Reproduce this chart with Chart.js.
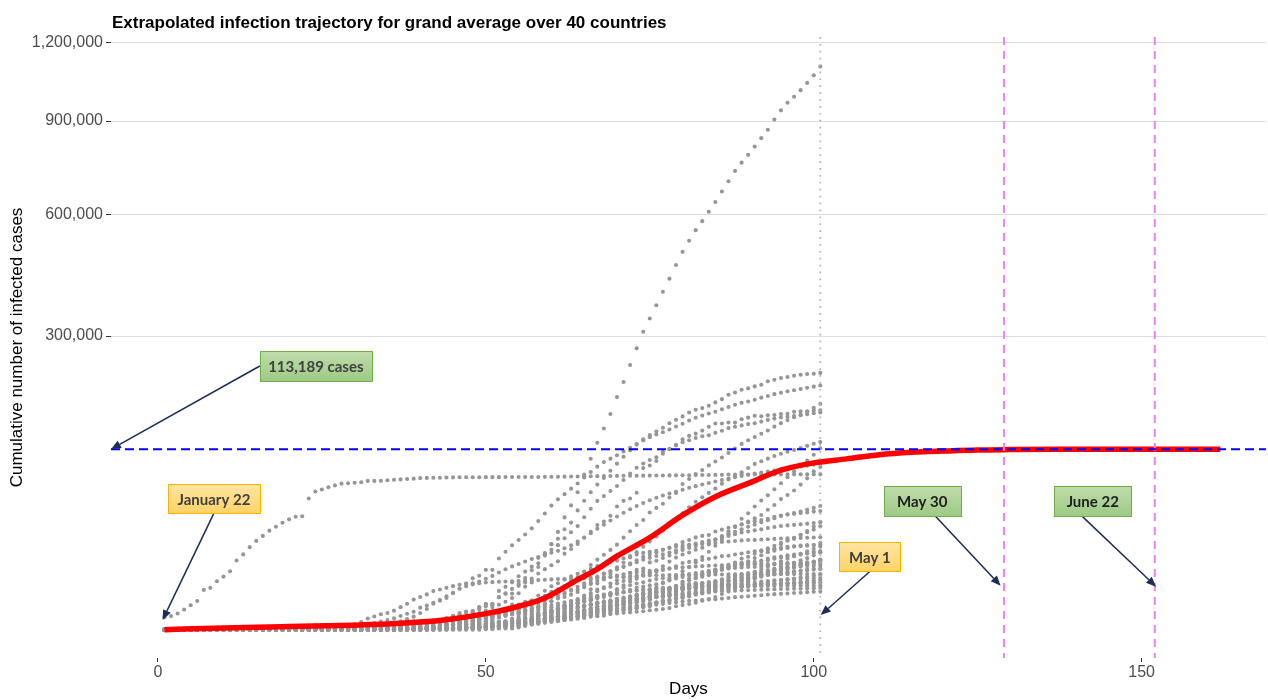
<!DOCTYPE html>
<html><head><meta charset="utf-8">
<script src="https://cdn.jsdelivr.net/npm/chart.js@4.4.1/dist/chart.umd.min.js"></script>
<style>html,body{margin:0;padding:0;background:#fff;overflow:hidden}canvas{display:block}</style>
</head><body><canvas id="c" width="1268" height="700"></canvas>
<script>
// ---------- tick labels / reference values ----------
const xTicks = [0, 50, 100, 150];
const yTicks = [300000, 600000, 900000, 1200000];
const plateauValue = 113189;
const dottedDay = 101;
const dashedDays = [129, 152];

// ---------- extrapolated grand-average trajectory ----------
const redDays = [1, 10, 20, 30, 35, 40, 44, 50, 54, 59, 64, 67, 70, 75, 80, 85, 90, 95, 100, 105, 110, 115, 120, 125, 130, 137, 150, 162];
const redVals = [0, 10, 35, 70, 110, 200, 350, 900, 1640, 3500, 8700, 12800, 18800, 29500, 45600, 61500, 74500, 88500, 96800, 101500, 106500, 109400, 111000, 112300, 112800, 113189, 113189, 113189];

// ---------- cumulative cases per country, days 1..101 ----------
const US = [1,1,2,2,5,5,5,5,5,7,8,8,11,11,11,11,11,11,11,11,12,12,13,13,13,13,13,13,13,13,15,15,15,51,51,57,58,60,68,74,98,118,149,217,262,402,518,583,959,1281,1663,2179,2727,3499,4632,6421,7786,13680,19101,25493,33276,43847,53740,65778,83836,101657,121478,140886,161807,188172,213372,243622,275367,308650,336802,366317,397121,428654,462780,496535,526396,555313,580619,607670,636350,667801,699706,732197,758809,784326,811865,840351,869170,905358,938154,965785,988197,1012582,1039909,1069424,1103461];
const Spain = [0,0,0,0,0,0,0,0,0,0,1,1,1,1,1,1,1,1,2,2,2,2,2,2,2,2,2,2,2,2,2,2,2,2,6,13,15,32,45,84,120,165,222,259,400,500,673,1073,1695,2277,2277,5232,6391,7798,9942,11748,13910,17963,20410,25374,28768,35136,39885,49515,57786,65719,73235,80110,87956,95923,104118,112065,119199,126168,131646,136675,141942,148220,153222,158273,164000,168300,170800,174500,179700,184900,192000,195700,200300,202500,205900,208800,214600,217400,220300,222100,224400,226100,227400,227900,229400];
const Italy = [0,0,0,0,0,0,0,0,0,2,2,2,2,2,2,2,3,3,3,3,3,3,3,3,3,3,3,3,3,3,20,62,155,229,322,453,655,888,1128,1694,2036,2502,3089,3858,4636,5883,7375,9172,10149,12462,12462,17660,21157,24747,27980,31506,35713,41035,47021,53578,59138,63927,69176,74386,80589,86498,92472,97689,101739,105792,110574,115242,119827,124632,128948,132547,135586,139422,143626,147577,152271,156363,159516,162488,165155,168941,172434,175925,178972,181228,183957,187327,189973,192994,195351,197675,199414,201505,203591,205463,207428];
const UK = [0,0,0,0,0,0,0,0,0,2,2,2,2,2,2,2,2,3,3,8,8,9,9,9,9,9,9,9,9,9,9,9,9,13,13,13,15,20,23,36,40,51,86,116,164,209,278,321,383,460,460,798,1140,1140,1543,1950,2626,2689,3983,5018,5683,6650,8077,9529,11658,14543,17089,19522,22141,25150,29474,33718,38168,41903,47806,51608,55242,60733,65077,73758,78991,84279,88621,93873,98476,103093,108692,114217,120067,124743,129044,133495,138078,143464,148377,152840,157149,161145,165221,171253,177454];
const France = [0,0,2,3,3,3,4,5,5,5,6,6,6,6,6,6,6,11,11,11,11,11,11,11,12,12,12,12,12,12,12,12,12,12,14,18,38,57,100,130,191,204,288,380,656,959,1136,1219,1794,2293,2293,3681,4496,4532,6683,7715,9124,10970,12758,14463,16243,20123,22622,25600,29551,33402,38105,40708,45170,52827,57749,59929,65202,90848,93773,98963,110065,113959,118781,125931,130727,133670,137877,143303,147969,147863,149233,149149,154097,156480,159297,158303,159952,160292,161644,162220,165093,165764,165911,167299,167305];
const Germany = [0,0,0,0,0,0,1,4,4,5,8,10,12,12,12,12,13,13,14,14,16,16,16,16,16,16,16,16,16,16,16,16,16,16,17,27,46,48,79,130,159,196,262,482,670,799,1040,1176,1457,1908,2078,3675,4585,5795,7272,9257,12327,15320,19848,22213,24873,29056,32986,37323,43938,50871,57695,62095,66885,71808,77872,84794,91159,96092,100123,103374,107663,113296,118181,122171,124908,127854,130072,131359,134753,137698,141397,143342,145184,147065,148291,150648,153129,154999,156513,157770,158758,159912,161539,163009,164077];
const Turkey = [0,0,0,0,0,0,0,0,0,0,0,0,0,0,0,0,0,0,0,0,0,0,0,0,0,0,0,0,0,0,0,0,0,0,0,0,0,0,0,0,0,0,0,0,0,0,0,0,0,1,1,5,5,6,18,47,98,192,359,670,1236,1529,1872,2433,3629,5698,7402,9217,10827,13531,15679,18135,20921,23934,27069,30217,34109,38226,42282,47029,52167,56956,61049,65111,69392,74193,78546,82329,86306,90980,95591,98674,101790,104912,107773,110130,112261,114653,117589,120204,122392];
const Russia = [0,0,0,0,0,0,0,0,0,2,2,2,2,2,2,2,2,2,2,2,2,2,2,2,2,2,2,2,2,2,2,2,2,2,2,2,2,2,2,2,3,3,3,4,13,13,17,17,20,20,28,45,59,63,90,114,147,199,253,306,367,438,495,658,840,1036,1264,1534,1836,2337,2777,3548,4149,4731,5389,6343,7497,8672,10131,11917,13584,15770,18328,21102,24490,27938,32008,36793,42853,47121,52763,57999,62773,68622,74588,80949,87147,93558,99399,106498,114431];
const Iran = [0,0,0,0,0,0,0,0,0,0,0,0,0,0,0,0,0,0,0,0,0,0,0,0,0,0,0,0,2,5,18,28,43,61,95,139,245,388,593,978,1501,2336,2922,3513,4747,5823,6566,7161,8042,9000,10075,11364,12729,13938,14991,16169,17361,18407,19644,20610,21638,23049,24811,27017,29406,32332,35408,38309,41495,44605,47593,50468,53183,55743,58226,60500,62589,64586,66220,68192,70029,71686,73303,74877,76389,77995,79494,80868,82211,83505,84802,85996,87026,88194,89328,90481,91472,92584,93657,94640,95646];
const Brazil = [0,0,0,0,0,0,0,0,0,0,0,0,0,0,0,0,0,0,0,0,0,0,0,0,0,0,0,0,0,0,0,0,0,0,0,1,1,1,2,2,2,2,4,4,13,13,20,25,31,38,52,151,151,162,200,321,372,621,793,1021,1546,1924,2247,2554,2985,3417,3904,4256,4579,5717,6836,8044,9056,10360,11130,12161,14034,16170,18092,19638,20727,22192,23430,25262,28320,30425,33682,36658,38654,40743,43079,45757,50036,54043,59324,63100,67446,73235,79685,87187,92202];
const China = [548,643,920,1406,2075,2877,5509,6087,8141,9802,11891,16630,19716,23707,27440,30587,34110,36814,39829,42354,44386,44759,59895,66358,68413,70513,72434,74211,74619,75077,75550,77001,77022,77241,77754,78166,78600,78928,79356,79932,80136,80261,80386,80537,80690,80770,80823,80860,80887,80921,80932,80945,80977,81003,81033,81058,81102,81156,81250,81305,81435,81498,81591,81661,81782,81897,81999,82122,82198,82279,82361,82432,82511,82543,82602,82665,82718,82809,82883,82941,83014,83134,83213,83306,83356,83403,83760,83787,83805,83817,83853,83868,83884,83899,83909,83912,83918,83940,83944,83956,83959];
const Canada = [0,0,0,0,1,1,2,2,2,4,4,4,4,4,5,5,7,7,7,7,7,7,7,7,7,7,7,7,8,8,9,9,9,10,11,11,13,14,20,24,27,30,33,37,49,54,64,77,79,108,117,193,198,252,415,478,657,800,943,1277,1465,2088,2790,3251,4042,4682,5576,6280,7398,8527,9560,11284,12437,12978,15756,16563,17872,19141,20654,22059,23316,24298,25680,27035,28209,29812,31927,33383,35056,36857,38422,40179,41650,43299,44919,46371,47327,48500,50026,51597,53236];
const Belgium = [0,0,0,0,0,0,0,0,0,0,0,0,0,1,1,1,1,1,1,1,1,1,1,1,1,1,1,1,1,1,1,1,1,1,1,1,1,1,1,2,8,13,23,50,109,169,200,239,267,314,314,559,689,886,1058,1243,1486,1795,2257,2815,3401,3743,4269,4937,6235,7284,9134,10836,11899,12775,13964,15348,16770,18431,19691,20814,22194,23403,24983,26667,28018,29647,30589,31119,33573,34809,36138,37183,38496,39983,40956,41889,42797,44293,45325,46134,46687,47334,47859,48519,49032];
const Netherlands = [0,0,0,0,0,0,0,0,0,0,0,0,0,0,0,0,0,0,0,0,0,0,0,0,0,0,0,0,0,0,0,0,0,0,0,0,1,1,6,10,18,24,38,82,128,188,265,321,382,503,503,806,962,1138,1416,1711,2058,2467,3003,3640,4217,4764,5580,6438,7468,8647,9819,10930,11817,12667,13696,14788,15821,17000,17968,18926,19709,20682,21903,23249,24571,25746,26710,27580,28316,29383,30619,31766,32838,33588,34317,35032,35921,36729,37384,37845,38245,38612,39123,39512,39989];
const Peru = [0,0,0,0,0,0,0,0,0,0,0,0,0,0,0,0,0,0,0,0,0,0,0,0,0,0,0,0,0,0,0,0,0,0,0,0,0,0,0,0,0,0,0,0,1,1,1,7,11,11,15,22,38,43,71,86,117,145,234,263,318,363,395,416,480,580,635,671,852,1065,1323,1414,1595,1746,2281,2561,2954,4342,5256,5897,6848,7519,9784,10303,11475,12491,13489,14420,15628,16325,17837,19250,20914,21648,25331,27517,28699,31190,33931,36976,40459];
const India = [0,0,0,0,0,0,0,0,1,1,1,2,3,3,3,3,3,3,3,3,3,3,3,3,3,3,3,3,3,3,3,3,3,3,3,3,3,3,3,3,5,5,28,30,31,34,39,43,56,62,73,82,102,113,119,142,156,194,244,330,396,499,536,657,727,887,987,1024,1251,1397,1998,2543,2567,3082,3588,4778,5311,5916,6725,7598,8446,9205,10453,11487,12322,13430,14352,15722,17615,18539,20080,21370,23077,24530,26283,27890,29451,31324,33062,34863,37257];
const Switzerland = [0,0,0,0,0,0,0,0,0,0,0,0,0,0,0,0,0,0,0,0,0,0,0,0,0,0,0,0,0,0,0,0,0,0,1,1,8,8,18,27,42,56,90,114,214,268,337,374,491,652,652,1139,1359,2200,2200,2700,3028,4075,5294,6575,7474,8795,9877,10897,11811,12928,14076,14829,15922,16605,17768,18827,19606,20505,21100,21657,22253,23280,24051,24551,25107,25415,25688,25936,26336,26732,27078,27404,27740,27944,28063,28268,28496,28677,28894,29061,29164,29264,29407,29586,29705];
const Ecuador = [0,0,0,0,0,0,0,0,0,0,0,0,0,0,0,0,0,0,0,0,0,0,0,0,0,0,0,0,0,0,0,0,0,0,0,0,0,0,1,6,6,7,10,13,13,13,14,15,15,17,17,17,28,28,37,58,111,199,426,532,789,981,1082,1211,1382,1595,1823,1924,1962,2240,2748,3163,3368,3465,3646,3747,3747,4450,4965,7161,7257,7466,7529,7603,7858,8225,8450,9022,9468,10128,10398,10850,11183,22719,22719,23240,24258,24675,24934,24934,26336];
const SaudiArabia = [0,0,0,0,0,0,0,0,0,0,0,0,0,0,0,0,0,0,0,0,0,0,0,0,0,0,0,0,0,0,0,0,0,0,0,0,0,0,0,0,1,1,1,5,5,5,7,11,15,21,45,62,86,103,118,133,171,238,274,344,392,511,767,900,1012,1104,1203,1299,1453,1563,1720,1885,2039,2179,2402,2605,2795,2932,3287,3651,4033,4462,4934,5369,5862,6380,7142,8274,9362,10484,11631,12772,13930,15102,16299,17522,18811,20077,21402,22753,24097];
const Portugal = [0,0,0,0,0,0,0,0,0,0,0,0,0,0,0,0,0,0,0,0,0,0,0,0,0,0,0,0,0,0,0,0,0,0,0,0,0,0,0,0,2,2,5,8,13,20,30,30,41,59,59,112,169,245,331,448,448,785,1020,1280,1600,2060,2362,2995,3544,4268,5170,5962,6408,7443,8251,9034,9886,10524,11278,11730,12442,13141,13956,15472,15987,16585,16934,17448,18091,18841,19022,19685,20206,20863,21379,21982,22353,22797,23392,23864,24027,24322,24505,24987,25190];
const Mexico = [0,0,0,0,0,0,0,0,0,0,0,0,0,0,0,0,0,0,0,0,0,0,0,0,0,0,0,0,0,0,0,0,0,0,0,0,0,1,4,5,5,5,5,5,6,6,7,7,7,8,12,12,26,41,53,82,93,118,164,203,251,316,367,475,585,717,848,993,1094,1215,1378,1510,1688,1890,2143,2439,2785,3181,3441,3844,4219,4661,5014,5399,5847,6297,6875,7497,8261,8772,9501,10544,11633,12872,13842,14677,15529,16752,17799,19224,20739];
const Sweden = [0,0,0,0,0,0,0,0,0,1,1,1,1,1,1,1,1,1,1,1,1,1,1,1,1,1,1,1,1,1,1,1,1,1,1,2,7,7,12,14,15,21,35,94,101,161,203,248,355,500,599,814,961,1022,1103,1190,1279,1439,1639,1763,1934,2046,2286,2526,2840,3069,3447,3700,4028,4435,4947,5568,6131,6443,6830,7206,7693,8419,9141,9685,10151,10483,10948,11445,11927,12540,13216,13822,14385,14777,15322,16004,16755,17567,18177,18640,18926,19621,20302,21092,21520];
const Ireland = [0,0,0,0,0,0,0,0,0,0,0,0,0,0,0,0,0,0,0,0,0,0,0,0,0,0,0,0,0,0,0,0,0,0,0,0,0,0,1,1,1,1,2,6,13,18,19,21,24,34,43,43,90,129,169,223,292,557,683,785,906,1125,1329,1564,1819,2121,2415,2615,2910,3235,3447,3849,4273,4604,4994,5364,5709,6074,6574,8089,8928,9655,10647,11479,12547,13271,13980,14758,15251,15652,16040,16671,17607,18184,18561,19262,19648,19877,20253,20612,20833];
const Pakistan = [0,0,0,0,0,0,0,0,0,0,0,0,0,0,0,0,0,0,0,0,0,0,0,0,0,0,0,0,0,0,0,0,0,0,0,2,2,2,2,4,4,5,5,5,6,6,6,6,16,19,20,28,31,53,136,236,299,454,501,730,776,875,972,1063,1201,1373,1495,1597,1717,2039,2291,2450,2708,2818,3277,3864,4035,4263,4489,4695,4935,5230,5496,5837,6383,6919,7025,7638,8348,8418,9216,9749,10513,11155,11940,12723,13328,14079,14885,15759,16817];
const Chile = [0,0,0,0,0,0,0,0,0,0,0,0,0,0,0,0,0,0,0,0,0,0,0,0,0,0,0,0,0,0,0,0,0,0,0,0,0,0,0,0,0,1,1,4,4,4,8,8,17,23,33,43,61,75,156,201,238,238,434,537,632,746,922,1142,1306,1610,1909,2139,2449,2738,3031,3404,3737,4161,4471,4815,5116,5546,5972,6501,6927,7213,7525,7917,8273,8807,9252,9730,10088,10507,10832,11296,11812,12306,12858,13331,13813,14365,14885,16023,17008];
const Singapore = [0,1,3,3,4,5,7,7,10,13,16,18,18,24,28,28,30,33,40,45,47,50,58,67,72,75,77,81,84,84,85,85,89,89,91,93,96,98,102,106,108,110,110,117,130,138,150,150,160,178,178,200,212,226,243,266,313,345,385,432,455,509,558,631,683,732,802,844,879,926,1000,1049,1114,1189,1309,1375,1481,1623,1910,2108,2299,2532,2918,3252,3699,4427,5050,5992,6588,8014,9125,10141,11178,12075,12693,13624,14423,14951,15641,16169,17101];
const Israel = [0,0,0,0,0,0,0,0,0,0,0,0,0,0,0,0,0,0,0,0,0,0,0,0,0,0,0,0,0,0,1,1,1,1,1,2,3,5,7,10,10,12,15,15,17,21,25,39,79,100,126,161,193,251,255,337,433,677,883,1071,1238,1656,2030,2369,2693,3035,3619,4247,4695,5358,6092,6857,7428,7851,8430,8904,9248,9404,9968,10408,10743,11145,11586,12046,12501,12758,12982,13265,13491,13654,13713,13942,14498,14803,15298,15443,15555,15728,15834,15946,16004];
const Austria = [0,0,0,0,0,0,0,0,0,0,0,0,0,0,0,0,0,0,0,0,0,0,0,0,0,0,0,0,0,0,0,0,0,0,2,2,3,3,9,14,18,21,29,41,55,79,104,131,182,246,302,504,655,860,1018,1332,1646,2013,2388,2814,3582,4474,5283,5588,6909,7657,8271,8788,9618,10180,10711,11129,11524,11781,12051,12297,12639,12942,13244,13555,13806,13945,14041,14226,14336,14476,14595,14671,14749,14795,14873,14925,15002,15071,15148,15225,15274,15357,15402,15452,15531];
const Japan = [2,2,2,2,4,4,7,7,11,15,20,20,20,22,22,25,25,25,26,26,26,28,28,29,43,59,66,74,84,94,105,122,147,159,170,189,214,228,241,256,274,293,331,360,420,461,502,511,581,639,639,701,773,839,825,878,889,924,963,1007,1086,1086,1128,1193,1307,1387,1468,1693,1866,1953,2178,2495,2617,3139,3139,3654,3906,4257,4667,5530,6005,6748,7370,7645,8100,8626,9787,10296,10797,11135,11512,11950,12368,12829,13231,13441,13614,13895,14088,14281,14305];
const Poland = [0,0,0,0,0,0,0,0,0,0,0,0,0,0,0,0,0,0,0,0,0,0,0,0,0,0,0,0,0,0,0,0,0,0,0,0,0,0,0,0,0,0,1,1,5,5,11,16,22,31,49,68,103,119,177,238,251,355,425,536,634,749,901,1051,1221,1389,1638,1862,2055,2311,2554,2946,3383,3627,4102,4413,4848,5205,5575,5955,6356,6674,6934,7202,7582,7918,8379,8742,9287,9593,9856,10169,10511,10892,11273,11617,11902,12218,12640,12877,13105];
const Romania = [0,0,0,0,0,0,0,0,0,0,0,0,0,0,0,0,0,0,0,0,0,0,0,0,0,0,0,0,0,0,0,0,0,0,0,1,1,3,3,3,3,3,4,4,6,7,9,15,25,45,49,89,123,131,158,184,260,277,308,367,433,576,762,906,1029,1292,1452,1815,2109,2245,2460,2738,3183,3613,3864,4057,4417,4761,5202,5467,5990,6300,6633,6879,7216,7707,8067,8418,8746,9242,9710,10096,10417,10635,11036,11339,11616,11978,12240,12567,12732];
const SouthKorea = [1,1,2,2,3,4,4,4,4,11,12,15,15,16,19,23,24,24,25,27,28,28,28,28,28,29,30,31,31,104,204,433,602,833,977,1261,1766,2337,3150,3736,4335,5186,5621,6088,6593,7041,7314,7478,7513,7755,7869,7979,8086,8162,8236,8320,8413,8565,8652,8799,8897,8961,9037,9137,9241,9332,9478,9583,9661,9786,9887,9976,10062,10156,10237,10284,10331,10384,10423,10450,10480,10512,10537,10564,10591,10613,10635,10653,10661,10674,10683,10694,10708,10718,10728,10738,10752,10761,10765,10774,10780];
const Denmark = [0,0,0,0,0,0,0,0,0,0,0,0,0,0,0,0,0,0,0,0,0,0,0,0,0,0,0,0,0,0,0,0,0,0,0,0,1,1,1,3,4,4,6,10,10,23,23,35,264,444,617,804,836,875,933,1025,1116,1225,1337,1420,1514,1572,1718,1862,1980,2200,2366,2564,2755,3039,3290,3573,3946,4369,4681,5071,5402,5635,5819,6191,6318,6511,6681,6780,6876,7073,7242,7384,7515,7695,7912,8073,8210,8445,8575,8698,8851,8992,9158,9311,9407];
const Norway = [0,0,0,0,0,0,0,0,0,0,0,0,0,0,0,0,0,0,0,0,0,0,0,0,0,0,0,0,0,0,0,0,0,0,0,1,1,6,15,19,25,32,56,87,108,147,176,205,400,598,702,996,1090,1221,1333,1463,1550,1746,1914,2118,2385,2621,2863,3084,3369,3755,4015,4284,4445,4641,4863,5147,5370,5550,5687,5865,6086,6086,6211,6314,6409,6525,6603,6623,6740,6896,7036,7078,7156,7191,7225,7338,7401,7463,7499,7527,7599,7660,7710,7738,7783];
const Czechia = [0,0,0,0,0,0,0,0,0,0,0,0,0,0,0,0,0,0,0,0,0,0,0,0,0,0,0,0,0,0,0,0,0,0,0,0,0,0,0,3,3,5,8,12,18,19,31,31,41,91,94,141,189,253,298,396,464,694,833,995,1120,1236,1394,1654,1925,2279,2631,2817,3001,3308,3589,3858,4190,4472,4587,4822,5017,5312,5569,5732,5831,5991,6059,6111,6216,6433,6549,6654,6746,6900,7033,7132,7187,7273,7352,7404,7445,7504,7579,7682,7737];
const Australia = [0,0,0,0,4,5,5,6,9,9,12,12,12,13,13,14,15,15,15,15,15,15,15,15,15,15,15,15,15,15,15,15,15,15,15,22,23,23,25,27,30,39,52,55,60,63,76,91,107,128,128,200,250,297,377,452,568,681,791,1071,1549,1682,2044,2364,2810,3143,3640,3984,4361,4559,4862,5116,5330,5550,5687,5797,5895,6010,6108,6215,6303,6315,6351,6415,6440,6462,6522,6565,6587,6619,6645,6652,6662,6677,6694,6714,6721,6744,6752,6753,6766];
const Malaysia = [0,0,0,3,4,4,4,7,8,8,8,8,8,10,12,12,12,16,16,18,18,18,19,19,22,22,22,22,22,22,22,22,22,22,22,22,23,23,25,29,29,36,50,50,83,93,99,117,129,149,149,197,238,428,566,673,790,900,1030,1183,1306,1518,1624,1796,2031,2161,2320,2470,2626,2766,2908,3116,3333,3483,3662,3793,3963,4119,4228,4346,4530,4683,4817,4987,5072,5182,5251,5305,5389,5425,5482,5532,5603,5691,5742,5780,5820,5851,5945,6002,6071];
const Philippines = [0,0,0,0,0,0,0,0,1,1,1,2,3,3,3,3,3,3,3,3,3,3,3,3,3,3,3,3,3,3,3,3,3,3,3,3,3,3,3,3,3,3,3,3,5,6,10,20,33,49,52,64,111,140,142,187,202,217,230,307,380,462,552,636,707,803,1075,1418,1546,2084,2311,2633,3018,3094,3246,3660,3764,3870,4076,4195,4428,4648,4932,5223,5453,5660,5878,6087,6259,6459,6599,6710,6981,7192,7294,7579,7777,7958,8212,8488,8772];
const Indonesia = [0,0,0,0,0,0,0,0,0,0,0,0,0,0,0,0,0,0,0,0,0,0,0,0,0,0,0,0,0,0,0,0,0,0,0,0,0,0,0,0,2,2,2,2,4,4,6,19,27,34,34,69,96,117,134,172,227,309,369,450,514,579,686,790,893,1046,1155,1285,1414,1528,1677,1790,1986,2092,2273,2491,2738,2956,3293,3512,3842,4241,4557,4839,5136,5516,5923,6248,6575,6760,7135,7418,7775,8211,8607,8882,9096,9511,9771,10118,10551];
const Finland = [0,0,0,0,0,0,0,1,1,1,1,1,1,1,1,1,1,1,1,1,1,1,1,1,1,1,1,1,1,1,1,1,1,1,1,2,2,2,3,6,7,7,12,15,15,19,23,30,40,59,59,155,225,244,277,321,336,400,450,523,626,700,792,880,958,1041,1167,1240,1352,1418,1446,1518,1615,1882,1927,2176,2308,2487,2605,2769,2905,2974,3064,3161,3237,3369,3489,3681,3783,3868,4014,4129,4284,4395,4475,4576,4695,4740,4906,4995,5051];

const countrySeries = [US, Spain, Italy, UK, France, Germany, Turkey, Russia, Iran, Brazil, China, Canada, Belgium, Netherlands, Peru, India, Switzerland, Ecuador, SaudiArabia, Portugal, Mexico, Sweden, Ireland, Pakistan, Chile, Singapore, Israel, Austria, Japan, Poland, Romania, SouthKorea, Denmark, Norway, Czechia, Australia, Malaysia, Philippines, Indonesia, Finland];
const dayIndex = US.map((_, i) => i + 1);

// ---------- annotation layout (not data) ----------
const notes = [
  {text: '113,189 cases', kind: 'green', day: 24.08, value: 241900, w: 112, h: 30, from: [-56, 0], tipDay: 'left', tipValue: plateauValue, color: '#404040'},
  {text: 'January 22', kind: 'orange', day: 8.55, value: 59700, w: 92, h: 29, from: [0, 14.5], tipDay: 0.72, tipValue: 330, color: '#404040'},
  {text: 'May 1', kind: 'orange', day: 108.55, value: 18400, w: 61, h: 29, from: [0, 14.5], tipDay: 101.06, tipValue: 740, color: '#404040'},
  {text: 'May 30', kind: 'green', day: 116.54, value: 57700, w: 77, h: 30, from: [13, 15], tipDay: 128.5, tipValue: 6730, color: '#1e1e1e'},
  {text: 'June 22', kind: 'green', day: 142.54, value: 57700, w: 77, h: 30, from: [-11, 15], tipDay: 152.2, tipValue: 6430, color: '#1e1e1e'}
];

// ---------- square-root value axis ----------
class SqrtScale extends Chart.LinearScale {
  _t(v) { return Math.sign(v) * Math.sqrt(Math.abs(v)); }
  getPixelForValue(value) {
    const a = this._t(this.min), b = this._t(this.max);
    return this.getPixelForDecimal((this._t(value) - a) / (b - a));
  }
  getValueForPixel(pixel) {
    const a = this._t(this.min), b = this._t(this.max);
    const s = a + this.getDecimalForPixel(pixel) * (b - a);
    return Math.sign(s) * s * s;
  }
}
SqrtScale.id = 'sqrt';
SqrtScale.defaults = Chart.LinearScale.defaults;
Chart.register(SqrtScale);

const TICK_FONT = {family: '"Liberation Sans", Arial, sans-serif', size: 16};
const TITLE_FONT = {family: '"Liberation Sans", Arial, sans-serif', size: 17};

function arrow(ctx, x1, y1, x2, y2) {
  ctx.save();
  ctx.strokeStyle = ctx.fillStyle = '#1c2d5c';
  ctx.lineWidth = 1.5; ctx.setLineDash([]);
  const ang = Math.atan2(y2 - y1, x2 - x1), L = 10, W = 4.2;
  const bx = x2 - L * Math.cos(ang), by = y2 - L * Math.sin(ang);
  ctx.beginPath(); ctx.moveTo(x1, y1); ctx.lineTo(bx, by); ctx.stroke();
  ctx.beginPath(); ctx.moveTo(x2, y2);
  ctx.lineTo(bx + W * Math.sin(ang), by - W * Math.cos(ang));
  ctx.lineTo(bx - W * Math.sin(ang), by + W * Math.cos(ang));
  ctx.closePath(); ctx.fill();
  ctx.restore();
}

const overlay = {
  id: 'overlay',
  afterDatasetsDraw(chart) {
    const {ctx, chartArea: a, scales: {x, y}} = chart;
    ctx.save();
    ctx.lineCap = 'butt';
    ctx.strokeStyle = '#b0b0b0'; ctx.lineWidth = 1.7; ctx.setLineDash([1.7, 5.2]);
    const xd = x.getPixelForValue(dottedDay);
    ctx.beginPath(); ctx.moveTo(xd, a.top); ctx.lineTo(xd, a.bottom); ctx.stroke();
    ctx.strokeStyle = '#ee82ee'; ctx.lineWidth = 2; ctx.setLineDash([8, 6]);
    dashedDays.forEach(d => {
      const xp = x.getPixelForValue(d);
      ctx.beginPath(); ctx.moveTo(xp, a.top); ctx.lineTo(xp, a.bottom); ctx.stroke();
    });
    ctx.strokeStyle = '#0000ff'; ctx.lineWidth = 2; ctx.setLineDash([9, 5]);
    const yh = y.getPixelForValue(plateauValue);
    ctx.beginPath(); ctx.moveTo(a.left, yh); ctx.lineTo(a.right, yh); ctx.stroke();
    ctx.restore();
  },
  afterDraw(chart) {
    const {ctx, chartArea: a, scales: {x, y}} = chart;
    ctx.save();
    ctx.fillStyle = '#000';
    ctx.font = 'bold 17px "Liberation Sans", Arial, sans-serif';
    ctx.textAlign = 'left'; ctx.textBaseline = 'alphabetic';
    ctx.fillText('Extrapolated infection trajectory for grand average over 40 countries', a.left + 1, 28);
    notes.forEach(n => {
      const cx = x.getPixelForValue(n.day), cy = y.getPixelForValue(n.value);
      const tx = n.tipDay === 'left' ? a.left : x.getPixelForValue(n.tipDay);
      const ty = y.getPixelForValue(n.tipValue);
      arrow(ctx, cx + n.from[0], cy + n.from[1], tx, ty);
      const x0 = Math.round(cx - n.w / 2) + 0.5, y0 = Math.round(cy - n.h / 2) + 0.5;
      const g = ctx.createLinearGradient(0, y0, 0, y0 + n.h);
      if (n.kind === 'green') { g.addColorStop(0, '#bfdcab'); g.addColorStop(1, '#9dca84'); }
      else { g.addColorStop(0, '#ffe4a3'); g.addColorStop(1, '#ffd465'); }
      ctx.fillStyle = g; ctx.fillRect(x0, y0, n.w, n.h);
      ctx.strokeStyle = n.kind === 'green' ? '#70ad47' : '#f7b500';
      ctx.lineWidth = 1; ctx.setLineDash([]);
      ctx.strokeRect(x0, y0, n.w, n.h);
      ctx.fillStyle = n.color;
      ctx.font = 'bold 15px Lato, "Open Sans", sans-serif';
      ctx.textAlign = 'center'; ctx.textBaseline = 'middle';
      ctx.fillText(n.text, cx, cy + 1);
    });
    ctx.restore();
  }
};

const datasets = countrySeries.map(arr => ({
  data: arr.map((v, i) => ({x: dayIndex[i], y: v})),
  backgroundColor: '#969696', borderWidth: 0, pointRadius: 2.05, pointHoverRadius: 2.05, order: 2, showLine: false
}));
datasets.push({
  data: redDays.map((d, i) => ({x: d, y: redVals[i]})),
  showLine: true, borderColor: '#ff0000', borderWidth: 5.5, pointRadius: 0,
  cubicInterpolationMode: 'monotone', fill: false, order: 0
});

new Chart(document.getElementById('c'), {
  type: 'scatter',
  data: {datasets},
  plugins: [overlay],
  options: {
    responsive: false, animation: false, devicePixelRatio: 1,
    layout: {padding: {top: 37, left: 0, right: 0, bottom: 0}},
    plugins: {legend: {display: false}, tooltip: {enabled: false}, title: {display: false}},
    scales: {
      x: {
        type: 'linear', min: -7.15, max: 168.95,
        afterBuildTicks: s => { s.ticks = xTicks.map(v => ({value: v})); },
        afterFit: s => { s.height = 42; s.paddingLeft = 0; s.paddingRight = 0; },
        grid: {drawOnChartArea: false, drawTicks: true, tickLength: 4, tickColor: '#333333', tickWidth: 1},
        border: {display: false},
        ticks: {color: '#4d4d4d', font: TICK_FONT, padding: 1, autoSkip: false, maxRotation: 0, callback: v => String(v)},
        title: {display: true, text: 'Days', color: '#000', font: TITLE_FONT, padding: {top: 0, bottom: 0}}
      },
      y: {
        type: 'sqrt', min: -2786, max: 1221900,
        afterBuildTicks: s => { s.ticks = yTicks.map(v => ({value: v})); },
        afterFit: s => { s.width = 111; s.paddingTop = 0; s.paddingBottom = 0; },
        grid: {color: '#dddddd', lineWidth: 1, drawTicks: true, tickLength: 5, tickColor: '#333333', tickWidth: 1},
        border: {display: false},
        ticks: {color: '#4d4d4d', font: TICK_FONT, padding: 3, autoSkip: false, callback: v => Number(v).toLocaleString('en-US')},
        title: {display: true, text: 'Cumulative number of infected cases', color: '#000', font: TITLE_FONT, padding: {top: 7, bottom: 0}}
      }
    }
  }
});
</script>
</body></html>
